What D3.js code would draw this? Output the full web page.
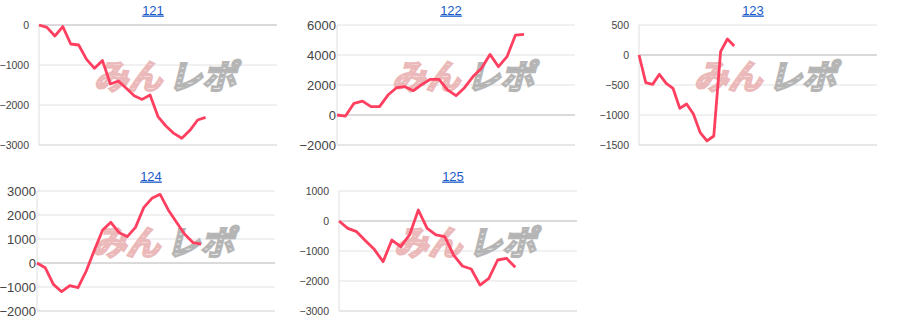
<!DOCTYPE html>
<meta charset="utf-8">
<style>
  body { margin: 0; background: #fff; }
  text { font-family: Arial, "Liberation Sans", sans-serif; }
</style>
<body>
<script src="https://d3js.org/d3.v7.min.js"></script>
<script>

// machine numbers (chart titles)
var titles = ["121", "122", "123", "124", "125"];

// running balance per game
var s121 = [0, -60, -275, -40, -475, -500, -860, -1083, -890, -1475, -1400, -1580, -1770, -1860, -1750, -2290, -2525, -2710, -2830, -2640, -2375, -2310];
var s122 = [0, -70, 780, 930, 555, 555, 1330, 1820, 1890, 1620, 2040, 2380, 2380, 1670, 1290, 1820, 2560, 3110, 4040, 3220, 3890, 5330, 5380];
var s123 = [0, -461, -489, -322, -472, -555, -889, -817, -983, -1294, -1433, -1350, 55, 267, 150];
var s124 = [0, -195, -890, -1195, -945, -1030, -333, 540, 1375, 1695, 1265, 1100, 1485, 2305, 2695, 2860, 2210, 1695, 1195, 850, 790];
var s125 = [0, -245, -355, -655, -945, -1355, -635, -855, -465, 365, -245, -465, -520, -1135, -1500, -1600, -2135, -1910, -1300, -1245, -1545];

// tick labels of each vertical axis
var ticks121 = [0, -1000, -2000, -3000];
var ticks122 = [6000, 4000, 2000, 0, -2000];
var ticks123 = [500, 0, -500, -1000, -1500];
var ticks124 = [3000, 2000, 1000, 0, -1000, -2000];
var ticks125 = [1000, 0, -1000, -2000, -3000];

// number of slots on each horizontal axis
var slots = [30, 28, 35, 29, 27];

var series = [s121, s122, s123, s124, s125];
var ticks = [ticks121, ticks122, ticks123, ticks124, ticks125];

var svg = d3.select("body").append("svg")
    .attr("width", 900)
    .attr("height", 332);

var create_chart = function (i, px, py, left, labelSize) {
    var plotW = 238, top = 25, bottom = 145;
    var t = ticks[i];

    var g = svg.append("g")
        .attr("transform", "translate(" + px + "," + py + ")");

    var x = d3.scaleLinear().domain([0, slots[i]]).range([left, left + plotW]);
    var y = d3.scaleLinear().domain([d3.min(t), d3.max(t)]).range([bottom, top]);

    // title link
    g.append("text")
        .attr("x", left + 114)
        .attr("y", 14.5)
        .attr("text-anchor", "middle")
        .style("font-size", "13px")
        .style("fill", "#1a5ac8")
        .style("text-decoration", "underline")
        .text(titles[i]);

    // gridlines
    g.selectAll(".grid")
        .data(t)
      .enter().append("line")
        .attr("x1", left).attr("x2", left + plotW)
        .attr("y1", function (d) { return y(d); })
        .attr("y2", function (d) { return y(d); })
        .style("stroke", function (d) { return d === 0 ? "#b5b5b5" : (d === d3.min(t) ? "#cfcfcf" : "#e2e2e2"); })
        .style("stroke-width", 1);

    g.append("line")
        .attr("x1", left).attr("x2", left)
        .attr("y1", top).attr("y2", bottom)
        .style("stroke", "#dedede");

    // vertical axis
    var axis = d3.axisLeft(y).tickValues(t).tickFormat(d3.format("d"))
        .tickSize(0).tickPadding(left === 39 ? 10 : 1);
    var ag = g.append("g")
        .attr("transform", "translate(" + left + ",0)")
        .call(axis);
    ag.select(".domain").remove();
    ag.selectAll("text")
        .style("font-size", labelSize + "px")
        .style("font-family", "Arial, 'Liberation Sans', sans-serif")
        .style("fill", "#444");

    // watermark
    var wm = g.append("g")
        .attr("transform", "translate(" + (left + 55) + "," + (top + 64) + ") skewX(-14)");
    wm.append("text")
        .attr("x", 0)
        .attr("textLength", 68)
        .attr("lengthAdjust", "spacingAndGlyphs")
        .style("font-family", "'Noto Sans CJK JP'")
        .style("font-weight", "bold")
        .style("font-size", "34px")
        .style("fill", "url(#stripePink)")
        .style("stroke", "#ebb9b9")
        .style("stroke-width", 2.4)
        .text("みん");
    wm.append("text")
        .attr("x", 74)
        .attr("textLength", 68)
        .attr("lengthAdjust", "spacingAndGlyphs")
        .style("font-family", "'Noto Sans CJK JP'")
        .style("font-weight", "bold")
        .style("font-size", "34px")
        .style("fill", "url(#stripeGray)")
        .style("stroke", "#b6b6b6")
        .style("stroke-width", 2.4)
        .text("レポ");

    // balance line
    var line = d3.line()
        .x(function (d, j) { return x(j); })
        .y(function (d) { return y(d); });

    g.append("path")
        .datum(series[i])
        .attr("d", line)
        .style("fill", "none")
        .style("stroke", "#ff3f60")
        .style("stroke-width", 2.8)
        .style("stroke-linejoin", "round");
}

// striped fills for the watermark
var defs = svg.append("defs");
var pink = defs.append("pattern").attr("id", "stripePink")
    .attr("patternUnits", "userSpaceOnUse").attr("width", 4).attr("height", 6);
pink.append("rect").attr("width", 4).attr("height", 6).style("fill", "#ebb9b9");
pink.append("rect").attr("y", 5).attr("width", 4).attr("height", 1).style("fill", "#f6dede");
var gray = defs.append("pattern").attr("id", "stripeGray")
    .attr("patternUnits", "userSpaceOnUse").attr("width", 4).attr("height", 5);
gray.append("rect").attr("width", 4).attr("height", 5).style("fill", "#b3b3b3");
gray.append("rect").attr("y", 3.5).attr("width", 4).attr("height", 1.5).style("fill", "#e6e6e6");

create_chart(0, 0, 0, 39, 10.5);
create_chart(1, 300, 0, 37, 13);
create_chart(2, 600, 0, 39, 10.5);
create_chart(3, 0, 166, 37, 13);
create_chart(4, 300, 166, 39, 10.5);

</script>
</body>
